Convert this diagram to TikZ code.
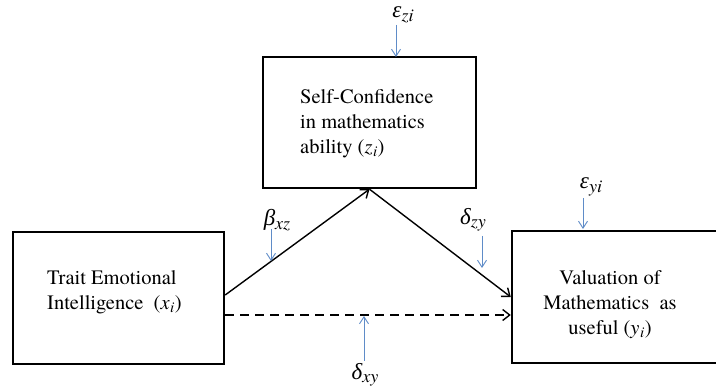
\documentclass[tikz,border=0pt]{standalone}
\usepackage{fontspec}
\setmainfont{TeX Gyre Termes}
\newfontfamily\tms{TeX Gyre Termes}
\newfontfamily\grk{Liberation Serif}
\usetikzlibrary{arrows.meta,calc}
\definecolor{errblue}{RGB}{95,140,200}
\newcommand{\vv}[2]{(\textit{#1}\kern0.5pt\raisebox{-0.3ex}{\fontsize{15}{15}\selectfont\textit{#2}}\kern0.5pt)}
\newcommand{\cf}[2]{{\grk\itshape #1}\raisebox{-0.35ex}{\fontsize{18}{18}\selectfont\textit{#2}}}
\tikzset{
  boxnode/.style={draw=black,line width=2.4pt,rectangle,inner sep=0pt},
  boxtext/.style={align=left,font=\tms\fontsize{20.5}{25}\selectfont,inner sep=0pt},
  path/.style={line width=1.4pt,-{Straight Barb[length=7pt,width=11pt,line width=1.4pt]}},
  errarrow/.style={errblue,line width=0.9pt,-{Straight Barb[length=7pt,width=9pt,line width=0.9pt]}},
  coef/.style={font=\tms\fontsize{23}{24}\selectfont,inner sep=0pt}
}
\begin{document}
\begin{tikzpicture}[x=1pt,y=-1pt]
\useasboundingbox (0,0) rectangle (716,387);
\clip (0,0) rectangle (716,387);
\fill[white] (0,0) rectangle (716,387);
% boxes
\node[boxnode,minimum width=211pt,minimum height=132pt] (L) at (118.5,298) {};
\node[boxnode,minimum width=213pt,minimum height=131pt] (T) at (369.5,122.5) {};
\node[boxnode,minimum width=211pt,minimum height=132pt] (R) at (617.5,297) {};
% texts
\node[boxtext,anchor=west] (Lt) at (47,292) {Trait Emotional\\Intelligence\ \ \vv{x}{i}};
\node[boxtext,anchor=west] (Tt) at (300,124) {Self-Confidence\\in mathematics\\ability\ \vv{z}{i}};
\node[boxtext,align=center] (Rt) at (610,305) {Valuation of\\Mathematics\ \ as\\useful \vv{y}{i}};
% paths
\draw[path] ($(L.east)+(0,-3)$) -- (T.south);
\draw[path] (T.south) -- (R.west);
\draw[path,dashed,dash pattern=on 9pt off 6pt,line width=2pt] ($(L.east)+(0,17)$) -- ($(R.west)+(0,18)$);
% error / coefficient arrows
\coordinate (ezs) at (396,25);
\coordinate (ezt) at (396,57);
\draw[errarrow] (ezs) -- (ezt);
\node[coef] (ez) at (403,15) {\cf{ε}{zi}};
\coordinate (eys) at (583,198);
\coordinate (eyt) at (583,229);
\draw[errarrow] (eys) -- (eyt);
\node[coef] (ey) at (591,187) {\cf{ε}{yi}};
\coordinate (bs) at (271,229);
\coordinate (bt) at (271,261);
\draw[errarrow] (bs) -- (bt);
\node[coef] (b) at (277,220) {\cf{β}{xz}};
\coordinate (ds) at (482,236);
\coordinate (dt) at (482,268);
\draw[errarrow] (ds) -- (dt);
\node[coef] (d) at (473,220) {\cf{δ}{zy}};
\coordinate (xs) at (364,361);
\coordinate (xt) at (364,316);
\draw[errarrow] (xs) -- (xt);
\node[coef] (x) at (365,375) {\cf{δ}{xy}};
\end{tikzpicture}
\end{document}
